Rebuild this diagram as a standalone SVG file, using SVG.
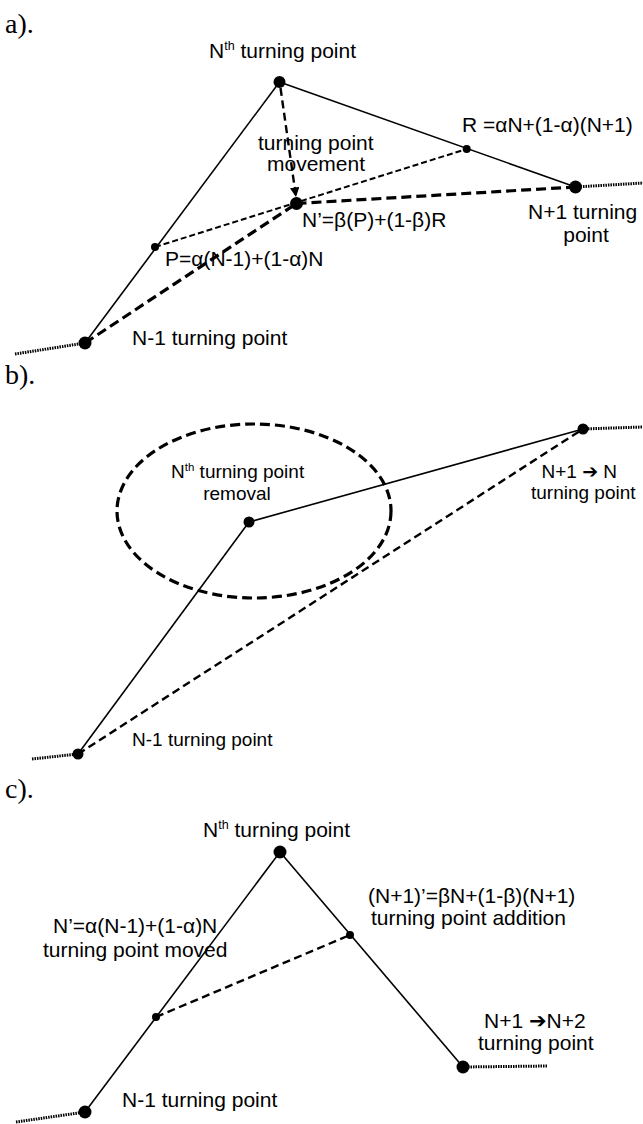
<svg xmlns="http://www.w3.org/2000/svg" width="643" height="1124" viewBox="0 0 643 1124">
<style>
.t{font-family:"Liberation Sans",Arial,sans-serif;font-size:21px;fill:#000}
.tb{font-family:"Liberation Sans",Arial,sans-serif;font-size:19px;fill:#000}
.lbl{font-family:"Liberation Serif","Times New Roman",serif;font-size:28px;fill:#000}
.sup{font-size:12.5px}
.arr{font-family:"DejaVu Sans",sans-serif}
.solid{stroke:#000;stroke-width:1.6;fill:none}
.thin{stroke:#000;stroke-width:2;stroke-dasharray:6 3;fill:none}
.thick{stroke:#000;stroke-width:3.2;stroke-dasharray:10 5;fill:none}
.mid{stroke:#000;stroke-width:2.4;stroke-dasharray:8 4.5;fill:none}
.dot{stroke:#000;stroke-width:3;stroke-dasharray:1.5 1;fill:none}
.big{fill:#000}
</style>
<defs>
<marker id="ah" viewBox="0 0 10 10" refX="10" refY="5" markerWidth="4" markerHeight="4" orient="auto" markerUnits="strokeWidth">
<path d="M0,0 L10,5 L0,10 z" fill="#000"/>
</marker>
</defs>

<text class="lbl" x="5" y="33">a).</text>
<text class="lbl" x="5" y="384">b).</text>
<text class="lbl" x="5" y="798">c).</text>

<g id="connectors">
<!-- part a -->
<line class="solid" x1="85" y1="343" x2="279.5" y2="82"/>
<line class="solid" x1="279.5" y1="82" x2="575.5" y2="187"/>
<line class="thin" x1="155" y1="247" x2="466.7" y2="149"/>
<line class="thick" x1="85" y1="343" x2="296.5" y2="203.5"/>
<line class="thick" x1="296.5" y1="203.5" x2="575.5" y2="187"/>
<line class="mid" x1="280.5" y1="88" x2="296" y2="197" marker-end="url(#ah)"/>
<line class="dot" x1="15" y1="354" x2="85" y2="343"/>
<line class="dot" x1="575.5" y1="187" x2="643" y2="183"/>
<!-- part b -->
<line class="solid" x1="78" y1="754" x2="249" y2="522"/>
<line class="solid" x1="249" y1="522" x2="583" y2="429"/>
<line class="mid" x1="78" y1="754" x2="583" y2="429"/>
<ellipse class="thick" cx="254" cy="511" rx="137" ry="87"/>
<line class="dot" x1="32" y1="759" x2="78" y2="754"/>
<line class="dot" x1="583" y1="429" x2="643" y2="427"/>
<!-- part c -->
<line class="solid" x1="85" y1="1112" x2="280" y2="852"/>
<line class="solid" x1="280" y1="852" x2="463" y2="1067"/>
<line class="mid" x1="156" y1="1017" x2="350" y2="935"/>
<line class="dot" x1="16" y1="1122" x2="85" y2="1112"/>
<line class="dot" x1="463" y1="1067" x2="548" y2="1066"/>
</g>

<!-- part a nodes -->
<g id="a-N">
<circle class="big" cx="279.5" cy="82" r="6"/>
<text class="t" x="209" y="58">N<tspan class="sup" dy="-8">th</tspan><tspan dy="8"> turning point</tspan></text>
</g>
<g id="a-Nm1">
<circle class="big" cx="85" cy="343" r="6.5"/>
<text class="t" x="132" y="345">N-1 turning point</text>
</g>
<g id="a-Np1">
<circle class="big" cx="575.5" cy="187" r="6.5"/>
<text class="t" x="528" y="219">N+1 turning</text>
<text class="t" x="586" y="242" text-anchor="middle">point</text>
</g>
<g id="a-R">
<circle class="big" cx="466.7" cy="149" r="4"/>
<text class="t" x="462" y="131.5">R =αN+(1-α)(N+1)</text>
</g>
<g id="a-P">
<circle class="big" cx="155" cy="247" r="4"/>
<text class="t" x="165" y="266">P=α(N-1)+(1-α)N</text>
</g>
<g id="a-Nprime">
<circle class="big" cx="296.5" cy="203.5" r="6.5"/>
<text class="t" x="302" y="226.7">N’=β(P)+(1-β)R</text>
</g>
<g id="a-movement">
<text class="t" x="258" y="150">turning point</text>
<text class="t" x="267" y="171">movement</text>
</g>

<!-- part b nodes -->
<g id="b-N">
<circle class="big" cx="249" cy="522" r="5.5"/>
<text class="tb" x="171" y="478">N<tspan class="sup" dy="-7" style="font-size:11.5px">th</tspan><tspan dy="7"> turning point</tspan></text>
<text class="tb" x="237" y="500" text-anchor="middle">removal</text>
</g>
<g id="b-Np1">
<circle class="big" cx="583" cy="429" r="5.5"/>
<text class="tb" x="541.5" y="478">N+1 <tspan class="arr">➔</tspan> N</text>
<text class="tb" x="531" y="499">turning point</text>
</g>
<g id="b-Nm1">
<circle class="big" cx="78" cy="754" r="5.5"/>
<text class="tb" x="132" y="746">N-1 turning point</text>
</g>

<!-- part c nodes -->
<g id="c-N">
<circle class="big" cx="280" cy="852" r="6.5"/>
<text class="t" x="203" y="837">N<tspan class="sup" dy="-8">th</tspan><tspan dy="8"> turning point</tspan></text>
</g>
<g id="c-Np1new">
<circle class="big" cx="350" cy="935" r="4"/>
<text class="t" x="368" y="903">(N+1)’=βN+(1-β)(N+1)</text>
<text class="t" x="371" y="925">turning point addition</text>
</g>
<g id="c-Nprime">
<circle class="big" cx="156" cy="1017" r="4"/>
<text class="t" x="53" y="932.7">N’=α(N-1)+(1-α)N</text>
<text class="t" x="43" y="957">turning point moved</text>
</g>
<g id="c-Np2">
<circle class="big" cx="463" cy="1067" r="6.5"/>
<text class="t" x="484" y="1028">N+1 <tspan class="arr">➔</tspan>N+2</text>
<text class="t" x="478" y="1050">turning point</text>
</g>
<g id="c-Nm1">
<circle class="big" cx="85" cy="1112" r="6.5"/>
<text class="t" x="122" y="1107">N-1 turning point</text>
</g>
</svg>
